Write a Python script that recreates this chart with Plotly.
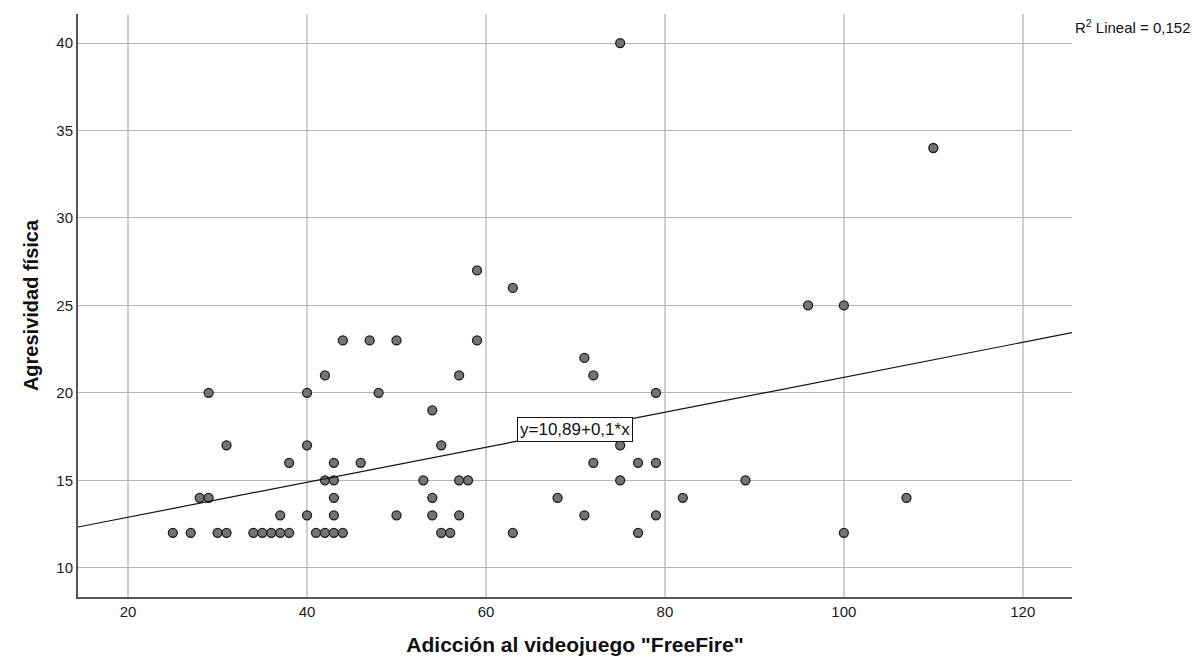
import plotly.graph_objects as go

# Adicción al videojuego "FreeFire" (x) vs Agresividad física (y)
adiccion = [
    25, 27, 30, 31, 34, 35, 36, 37, 38, 41, 42, 43, 44, 55, 56, 63, 77, 100,
    37, 40, 43, 50, 54, 57, 71, 79,
    28, 29, 43, 54, 68, 82, 107,
    42, 43, 53, 57, 58, 75, 89,
    38, 43, 46, 72, 77, 79,
    31, 40, 55, 75,
    54,
    29, 40, 48, 79,
    42, 57, 72,
    71,
    44, 47, 50, 59,
    96, 100,
    63,
    59,
    110,
    75,
]
agresividad = [
    12, 12, 12, 12, 12, 12, 12, 12, 12, 12, 12, 12, 12, 12, 12, 12, 12, 12,
    13, 13, 13, 13, 13, 13, 13, 13,
    14, 14, 14, 14, 14, 14, 14,
    15, 15, 15, 15, 15, 15, 15,
    16, 16, 16, 16, 16, 16,
    17, 17, 17, 17,
    19,
    20, 20, 20, 20,
    21, 21, 21,
    22,
    23, 23, 23, 23,
    25, 25,
    26,
    27,
    34,
    40,
]

# Linear fit as reported
intercepto = 10.89
pendiente = 0.1
r2_texto = "R<sup>2</sup> Lineal = 0,152"
ecuacion_texto = "y=10,89+0,1*x"

x_range = [14.4, 125.5]
y_range = [8.33, 41.66]
x_ticks = [20, 40, 60, 80, 100, 120]
y_ticks = [10, 15, 20, 25, 30, 35, 40]

FONT = "Liberation Sans, Arial, sans-serif"

fig = go.Figure()

fig.add_trace(go.Scatter(
    x=adiccion, y=agresividad, mode="markers",
    marker=dict(size=9, color="#747474", line=dict(color="#1e1e1e", width=1.3)),
    showlegend=False, hoverinfo="x+y",
))

line_x = x_range
line_y = [intercepto + pendiente * v for v in line_x]
fig.add_trace(go.Scatter(
    x=line_x, y=line_y, mode="lines",
    line=dict(color="#111111", width=1.2),
    showlegend=False, hoverinfo="skip",
))

eq_x = 70
fig.add_annotation(
    x=eq_x, y=intercepto + pendiente * eq_x, xref="x", yref="y",
    text=ecuacion_texto, showarrow=False,
    font=dict(family=FONT, size=17, color="#111111"),
    bgcolor="white", bordercolor="#111111", borderwidth=1, borderpad=2,
)

# R² label just right of the plot area, near the top
fig.add_annotation(
    x=1.0, y=(597 - 27) / 583, xref="x domain", yref="y domain",
    text=r2_texto, showarrow=False, xanchor="left", yanchor="middle",
    xshift=1,
    font=dict(family=FONT, size=15, color="#111111"),
)

fig.update_layout(
    width=1192, height=664,
    margin=dict(l=78, r=120, t=14, b=67),
    paper_bgcolor="white", plot_bgcolor="white",
    font=dict(family=FONT, color="#1a1a1a"),
    xaxis=dict(
        range=x_range, tickvals=x_ticks, ticktext=[str(v) for v in x_ticks],
        showgrid=True, gridcolor="#cfcfcf", gridwidth=2,
        showline=True, linecolor="#555555", linewidth=2,
        zeroline=False, ticks="", tickfont=dict(size=15, family=FONT, color="#1a1a1a"),
        title=dict(text='Adicción al videojuego "FreeFire"',
                   font=dict(size=21, family=FONT, color="#111111", weight="bold"),
                   standoff=18),
    ),
    yaxis=dict(
        range=y_range, tickvals=y_ticks, ticktext=[str(v) for v in y_ticks],
        showgrid=True, gridcolor="#b5b5b5", gridwidth=1,
        showline=True, linecolor="#555555", linewidth=2,
        zeroline=False, ticks="", tickfont=dict(size=15, family=FONT, color="#1a1a1a"),
        title=dict(text="Agresividad física",
                   font=dict(size=20, family=FONT, color="#111111", weight="bold"),
                   standoff=12),
    ),
)

fig.write_html("out.html")
